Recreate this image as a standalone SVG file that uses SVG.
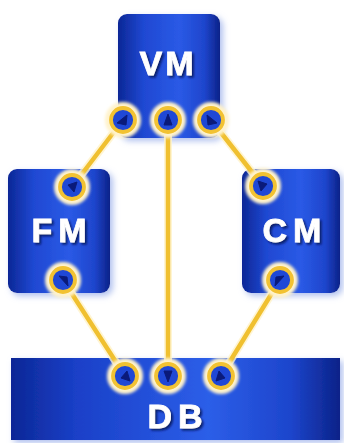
<svg xmlns="http://www.w3.org/2000/svg" width="344" height="443" viewBox="0 0 344 443">
  <defs>
    <linearGradient id="boxFill" x1="0" y1="0" x2="1" y2="0">
      <stop offset="0" stop-color="#0c2796"/>
      <stop offset="0.25" stop-color="#1f48d2"/>
      <stop offset="0.6" stop-color="#2a5ae6"/>
      <stop offset="0.85" stop-color="#1e45cc"/>
      <stop offset="1" stop-color="#0b2288"/>
    </linearGradient>
    <linearGradient id="dbFill" x1="0" y1="0" x2="1" y2="0">
      <stop offset="0" stop-color="#0c2796"/>
      <stop offset="0.2" stop-color="#1a40c8"/>
      <stop offset="0.6" stop-color="#2c5ee8"/>
      <stop offset="0.85" stop-color="#1d45cc"/>
      <stop offset="1" stop-color="#0b2288"/>
    </linearGradient>
    <filter id="shadow" x="-20%" y="-20%" width="140%" height="140%">
      <feGaussianBlur in="SourceAlpha" stdDeviation="3"/>
      <feOffset dx="3" dy="3" result="b"/>
      <feFlood flood-color="#8fa6e8" flood-opacity="0.7"/>
      <feComposite in2="b" operator="in"/>
      <feMerge><feMergeNode/><feMergeNode in="SourceGraphic"/></feMerge>
    </filter>
    <filter id="textShadow" x="-20%" y="-20%" width="140%" height="140%">
      <feGaussianBlur in="SourceAlpha" stdDeviation="1"/>
      <feOffset dx="1.5" dy="1.5" result="b"/>
      <feFlood flood-color="#061050" flood-opacity="0.8"/>
      <feComposite in2="b" operator="in"/>
      <feMerge><feMergeNode/><feMergeNode in="SourceGraphic"/></feMerge>
    </filter>
    <filter id="halo" x="-50%" y="-50%" width="200%" height="200%">
      <feGaussianBlur stdDeviation="1.8"/>
    </filter>
    <g id="port">
      <circle r="13.5" fill="none" stroke="#fff3cc" stroke-width="9" filter="url(#halo)"/>
      <circle r="12" fill="#1f48d6" stroke="#f2c232" stroke-width="3.8"/>
    </g>
  </defs>
  <style>
    .label { font-family: "Liberation Sans", Arial, sans-serif; font-weight: bold; font-size: 34px; fill: #ffffff; stroke: #ffffff; stroke-width: 0.8; text-anchor: middle; }
    .wire { stroke: #f0c030; stroke-width: 4.5; stroke-linecap: round; fill: none; }
    .wireGlow { stroke: #fff3c8; stroke-width: 8; fill: none; opacity: 0.8; }
    .tip { fill: #0a1a7a; stroke: #0a1a7a; stroke-width: 1; stroke-linejoin: round; }
  </style>

  <rect width="344" height="443" fill="#ffffff"/>

  <g id="VM" filter="url(#shadow)">
    <rect x="118" y="14" width="102" height="124" rx="9" fill="url(#boxFill)"/>
    <text class="label" x="168" y="75" letter-spacing="3" filter="url(#textShadow)">VM</text>
  </g>
  <g id="FM" filter="url(#shadow)">
    <rect x="8" y="169" width="102" height="124" rx="9" fill="url(#boxFill)"/>
    <text class="label" x="62" y="242" letter-spacing="6" filter="url(#textShadow)">FM</text>
  </g>
  <g id="CM" filter="url(#shadow)">
    <rect x="242" y="169" width="98" height="124" rx="9" fill="url(#boxFill)"/>
    <text class="label" x="295" y="242" letter-spacing="6" filter="url(#textShadow)">CM</text>
  </g>
  <g id="DB" filter="url(#shadow)">
    <rect x="11" y="358" width="329" height="82" fill="url(#dbFill)"/>
    <text class="label" x="178" y="428" letter-spacing="6" filter="url(#textShadow)">DB</text>
  </g>

  <g id="connectors">
    <g class="glows">
      <line class="wireGlow" x1="123" y1="120" x2="72" y2="187"/>
      <line class="wireGlow" x1="168" y1="120" x2="168" y2="375"/>
      <line class="wireGlow" x1="211" y1="120" x2="263" y2="186"/>
      <line class="wireGlow" x1="63" y1="280" x2="125" y2="376"/>
      <line class="wireGlow" x1="280" y1="280" x2="221" y2="376"/>
    </g>
    <line class="wire" x1="123" y1="120" x2="72" y2="187"/>
    <line class="wire" x1="168" y1="120" x2="168" y2="375"/>
    <line class="wire" x1="211" y1="120" x2="263" y2="186"/>
    <line class="wire" x1="63" y1="280" x2="125" y2="376"/>
    <line class="wire" x1="280" y1="280" x2="221" y2="376"/>

    <!-- ports with direction tips -->
    <use href="#port" x="123" y="120"/>
    <polygon class="tip" points="-6,3 4,-5 3,5" transform="translate(123 120)"/>
    <use href="#port" x="168" y="120"/>
    <polygon class="tip" points="0,-6 4,5 -4,5" transform="translate(168 120)"/>
    <use href="#port" x="211" y="120"/>
    <polygon class="tip" points="6,3 -4,-5 -3,5" transform="translate(211 120)"/>

    <use href="#port" x="72" y="187"/>
    <polygon class="tip" points="5,-5 -4,-2 2,5" transform="translate(72 187)"/>
    <use href="#port" x="63" y="280"/>
    <polygon class="tip" points="5,6 -4,-4 4,-3" transform="translate(63 280)"/>

    <use href="#port" x="263" y="186"/>
    <polygon class="tip" points="-5,-5 4,-2 -2,5" transform="translate(263 186)"/>
    <use href="#port" x="280" y="280"/>
    <polygon class="tip" points="-5,6 4,-4 -4,-3" transform="translate(280 280)"/>

    <use href="#port" x="125" y="376"/>
    <polygon class="tip" points="5,5 -4,2 2,-5" transform="translate(125 376)"/>
    <use href="#port" x="168" y="376"/>
    <polygon class="tip" points="0,6 4,-5 -4,-5" transform="translate(168 376)"/>
    <use href="#port" x="221" y="376"/>
    <polygon class="tip" points="-5,5 4,2 -2,-5" transform="translate(221 376)"/>
  </g>
</svg>
